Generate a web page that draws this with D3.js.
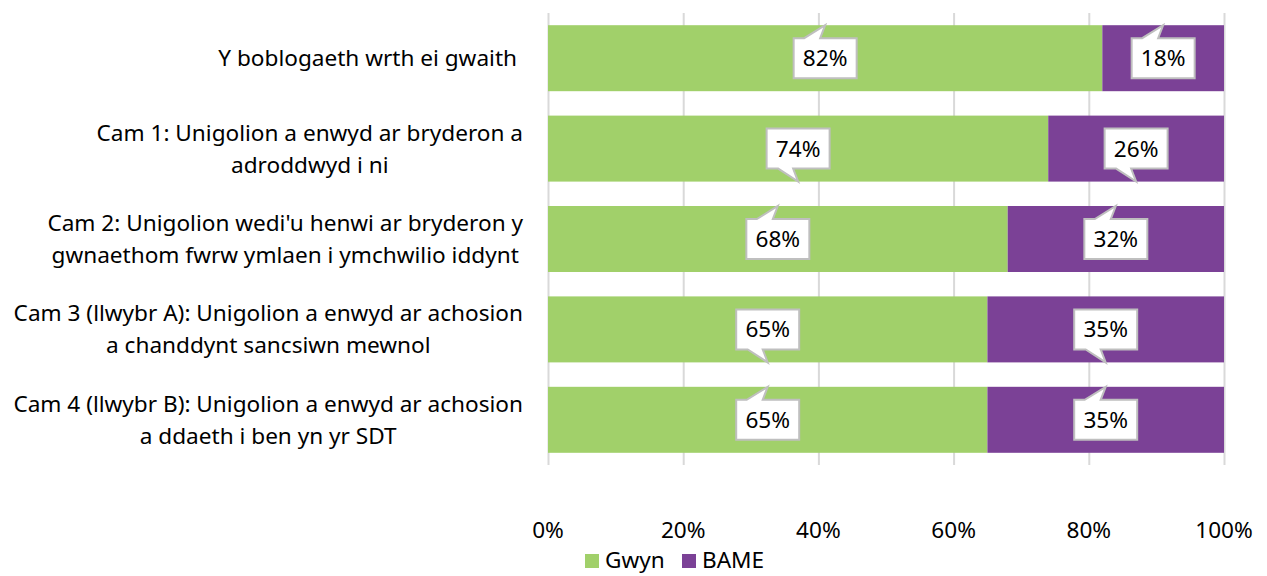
<!DOCTYPE html>
<meta charset="utf-8">
<style>
  body { margin: 0; background: #fff; }
  text { font-family: "Noto Sans", "Open Sans", sans-serif; fill: #000; }
</style>
<script src="https://d3js.org/d3.v7.min.js"></script>
<svg id="chart" width="1267" height="576"></svg>
<script>

  // categories (line breaks as in the original labels)
  var categories = [
    "Y boblogaeth wrth ei gwaith",
    "Cam 1: Unigolion a enwyd ar bryderon a\nadroddwyd i ni",
    "Cam 2: Unigolion wedi'u henwi ar bryderon y\ngwnaethom fwrw ymlaen i ymchwilio iddynt",
    "Cam 3 (llwybr A): Unigolion a enwyd ar achosion\na chanddynt sancsiwn mewnol",
    "Cam 4 (llwybr B): Unigolion a enwyd ar achosion\na ddaeth i ben yn yr SDT"
  ]
  var gwyn = [82, 74, 68, 65, 65]
  var bame = [18, 26, 32, 35, 35]
  var seriesNames = ["Gwyn", "BAME"]
  var tickValues = [0, 20, 40, 60, 80, 100]
  var colors = ["#a1d06a", "#7b4196"]

  var fontSize = 22.6
  var svg = d3.select("#chart")

  var x = d3.scaleLinear().domain([0, 100]).range([548, 1224])
  var y = d3.scaleBand().domain(categories).range([13, 465])
    .paddingInner(0.27).paddingOuter(0.135)

  var rows = categories.map(function(c, i) {
    return { cat: c, Gwyn: gwyn[i], BAME: bame[i] }
  })
  var stacked = d3.stack().keys(seriesNames)(rows)

  // gridlines
  svg.append("g")
    .attr("transform", "translate(0,465)")
    .call(d3.axisBottom(x).tickValues(tickValues).tickSize(-452).tickFormat(""))
    .call(function(g) {
      g.select(".domain").remove()
      g.selectAll(".tick line").attr("stroke", "#d9d9d9").attr("stroke-width", 2)
    })

  // bars
  svg.selectAll("g.series")
    .data(stacked)
    .enter()
    .append("g")
      .attr("class", "series")
      .attr("fill", function(d, i) { return colors[i] })
    .selectAll("rect")
    .data(function(d) { return d })
    .enter()
    .append("rect")
      .attr("x", function(d) { return x(d[0]) })
      .attr("width", function(d) { return x(d[1]) - x(d[0]) })
      .attr("y", function(d) { return y(d.data.cat) })
      .attr("height", y.bandwidth())

  // callout labels
  var boxW = 63, boxH = 40
  function calloutPath(cx, cy, up, top, bottom) {
    var l = cx - boxW / 2, r = cx + boxW / 2
    var t = cy - boxH / 2, b = cy + boxH / 2
    if (up) {
      return "M" + l + "," + t + "L" + (cx - 21) + "," + t + "L" + cx + "," + top +
        "L" + (cx - 5) + "," + t + "L" + r + "," + t + "L" + r + "," + b + "L" + l + "," + b + "Z"
    }
    return "M" + l + "," + t + "L" + r + "," + t + "L" + r + "," + b + "L" + (cx - 5) + "," + b +
      "L" + cx + "," + bottom + "L" + (cx - 20) + "," + b + "L" + l + "," + b + "Z"
  }

  stacked.forEach(function(s) {
    s.forEach(function(d, i) {
      var cx = x((d[0] + d[1]) / 2)
      var top = y(d.data.cat)
      var cy = top + y.bandwidth() / 2
      var up = i % 2 === 0
      svg.append("path")
        .attr("d", calloutPath(cx, cy, up, top, top + y.bandwidth()))
        .attr("fill", "#fff")
        .attr("stroke", "#bfbfbf")
        .attr("stroke-width", 2)
      svg.append("text")
        .attr("x", cx)
        .attr("y", cy)
        .attr("dy", "0.35em")
        .attr("text-anchor", "middle")
        .style("font-size", fontSize + "px")
        .text((d[1] - d[0]) + "%")
    })
  })

  // category labels: lines centred inside a block right-aligned at 523
  categories.forEach(function(c, i) {
    var lines = c.split("\n")
    var g = svg.append("g")
    var texts = lines.map(function(line) {
      return g.append("text").style("font-size", fontSize + "px").attr("text-anchor", "middle").text(line)
    })
    var maxW = d3.max(texts, function(t) { return t.node().getComputedTextLength() })
    var right = i === 0 ? 517 : 523
    var cx = right - maxW / 2
    var lh = 32
    var cy = y(c) + y.bandwidth() / 2
    texts.forEach(function(t, k) {
      t.attr("x", cx).attr("y", cy + (k - (lines.length - 1) / 2) * lh).attr("dy", "0.35em")
    })
  })

  // x tick labels
  svg.append("g")
    .selectAll("text")
    .data(tickValues)
    .enter()
    .append("text")
      .attr("x", function(d) { return x(d) })
      .attr("y", 530)
      .attr("dy", "0.35em")
      .attr("text-anchor", "middle")
      .style("font-size", fontSize + "px")
      .text(function(d) { return d + "%" })

  // legend
  var legendX = [585, 682]
  var legend = svg.append("g")
  seriesNames.forEach(function(name, i) {
    legend.append("rect")
      .attr("x", legendX[i]).attr("y", 554)
      .attr("width", 14).attr("height", 14)
      .attr("fill", colors[i])
    legend.append("text")
      .attr("x", legendX[i] + 20).attr("y", 560)
      .attr("dy", "0.35em")
      .style("font-size", fontSize + "px")
      .text(name)
  })

</script>
